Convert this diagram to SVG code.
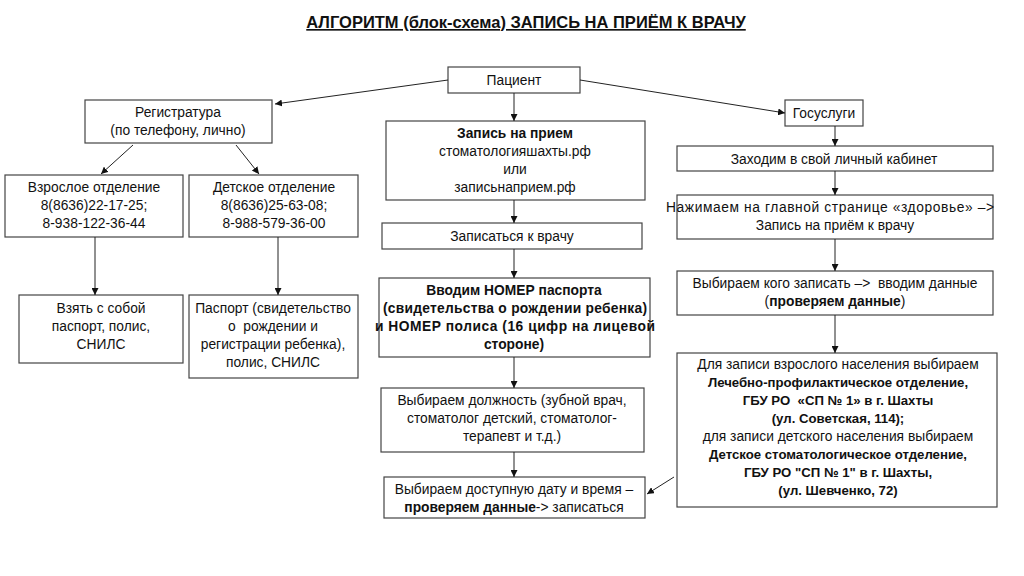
<svg xmlns="http://www.w3.org/2000/svg" width="1024" height="576" viewBox="0 0 1024 576">
<style>
.box{fill:#fff;stroke:#444;stroke-width:1.2}
text{font-family:"Liberation Sans",Arial,sans-serif;font-size:13.8px;fill:#111;text-anchor:middle}
.b{font-weight:bold}
.b2{font-weight:bold;font-size:13.2px}
.title{font-size:16.5px;font-weight:bold;text-decoration:underline}
.c line{stroke:#222;stroke-width:1;marker-end:url(#ah)}
</style>
<defs>
<marker id="ah" viewBox="0 0 8 8" refX="8" refY="4" markerWidth="7" markerHeight="7" markerUnits="userSpaceOnUse" orient="auto">
<path d="M0,0 L8,4 L0,8 z" fill="#111"/>
</marker>
</defs>
<rect width="1024" height="576" fill="#fff"/>
<text class="title" x="526" y="28">АЛГОРИТМ (блок-схема) ЗАПИСЬ НА ПРИЁМ К ВРАЧУ</text>

<g id="patient"><rect class="box" x="448" y="67" width="132" height="26"/><text x="514" y="85">Пациент</text></g>
<g id="registry"><rect class="box" x="85" y="100" width="187" height="43"/><text x="178" y="117">Регистратура</text><text x="178" y="135">(по телефону, лично)</text></g>
<g id="adult"><rect class="box" x="5" y="175" width="178" height="62"/><text x="94" y="192">Взрослое отделение</text><text x="94" y="210">8(8636)22-17-25;</text><text x="94" y="228">8-938-122-36-44</text></g>
<g id="child"><rect class="box" x="189" y="175" width="169" height="62"/><text x="274" y="192">Детское отделение</text><text x="274" y="210">8(8636)25-63-08;</text><text x="274" y="228">8-988-579-36-00</text></g>
<g id="take"><rect class="box" x="19" y="295" width="164" height="68"/><text x="101" y="313">Взять с собой</text><text x="101" y="331">паспорт, полис,</text><text x="101" y="349">СНИЛС</text></g>
<g id="passport"><rect class="box" x="189" y="295" width="169" height="83"/><text x="273" y="313">Паспорт (свидетельство</text><text x="273" y="331">о&#160; рождении и</text><text x="273" y="349">регистрации ребенка),</text><text x="273" y="367">полис, СНИЛС</text></g>

<g id="online"><rect class="box" x="386" y="121" width="259" height="79"/><text class="b" x="515" y="138">Запись на прием</text><text x="515" y="156">стоматологияшахты.рф</text><text x="515" y="174">или</text><text x="515" y="192">записьнаприем.рф</text></g>
<g id="signup"><rect class="box" x="382" y="223" width="260" height="26"/><text x="512" y="241">Записаться к врачу</text></g>
<g id="enter"><rect class="box" x="379" y="278" width="271" height="79"/><text class="b" x="514" y="295">Вводим НОМЕР паспорта</text><text class="b" x="515" y="313" textLength="264">(свидетельства о рождении ребенка)</text><text class="b" x="515" y="331" textLength="280">и НОМЕР полиса (16 цифр на лицевой</text><text class="b" x="514" y="349">стороне)</text></g>
<g id="position"><rect class="box" x="381" y="388" width="263" height="64"/><text x="512" y="405">Выбираем должность (зубной врач,</text><text x="512" y="423">стоматолог детский, стоматолог-</text><text x="512" y="441">терапевт и т.д.)</text></g>
<g id="date"><rect class="box" x="384" y="477" width="261" height="41"/><text x="514" y="494">Выбираем доступную дату и время –</text><text x="514" y="512"><tspan class="b">проверяем данные</tspan>-&gt; записаться</text></g>

<g id="gosuslugi"><rect class="box" x="785" y="100" width="78" height="26"/><text x="824" y="118">Госуслуги</text></g>
<g id="cabinet"><rect class="box" x="677" y="146" width="316" height="25"/><text x="834" y="164">Заходим в свой личный кабинет</text></g>
<g id="health"><rect class="box" x="677" y="195" width="316" height="44"/><text x="830" y="212" textLength="328">Нажимаем на главной странице «здоровье» –&gt;</text><text x="835" y="230">Запись на приём к врачу</text></g>
<g id="whom"><rect class="box" x="677" y="271" width="316" height="44"/><text x="835" y="288">Выбираем кого записать –&gt;&#160; вводим данные</text><text x="835" y="306">(<tspan class="b">проверяем данные</tspan>)</text></g>
<g id="clinic"><rect class="box" x="677" y="353" width="320" height="154"/>
<text x="838" y="369">Для записи взрослого населения выбираем</text>
<text class="b2" x="838" y="387">Лечебно-профилактическое отделение,</text>
<text class="b2" x="838" y="405">ГБУ РО&#160; «СП № 1» в г. Шахты</text>
<text class="b2" x="838" y="423">(ул. Советская, 114);</text>
<text x="838" y="441">для записи детского населения выбираем</text>
<text class="b2" x="838" y="459">Детское стоматологическое отделение,</text>
<text class="b2" x="838" y="477">ГБУ РО "СП № 1" в г. Шахты,</text>
<text class="b2" x="838" y="495">(ул. Шевченко, 72)</text></g>

<g id="connectors" class="c">
<line x1="448" y1="80" x2="275" y2="104"/>
<line x1="514" y1="93" x2="514" y2="121"/>
<line x1="580" y1="80" x2="785" y2="113"/>
<line x1="133" y1="145" x2="101" y2="174"/>
<line x1="236" y1="145" x2="259" y2="174"/>
<line x1="95" y1="237" x2="95" y2="295"/>
<line x1="278" y1="237" x2="278" y2="295"/>
<line x1="514" y1="200" x2="514" y2="223"/>
<line x1="514" y1="249" x2="514" y2="278"/>
<line x1="514" y1="357" x2="514" y2="388"/>
<line x1="514" y1="452" x2="514" y2="477"/>
<line x1="674" y1="477" x2="647" y2="494"/>
<line x1="835" y1="126" x2="835" y2="146"/>
<line x1="835" y1="171" x2="835" y2="195"/>
<line x1="835" y1="239" x2="835" y2="271"/>
<line x1="835" y1="315" x2="835" y2="353"/>
</g>
</svg>
